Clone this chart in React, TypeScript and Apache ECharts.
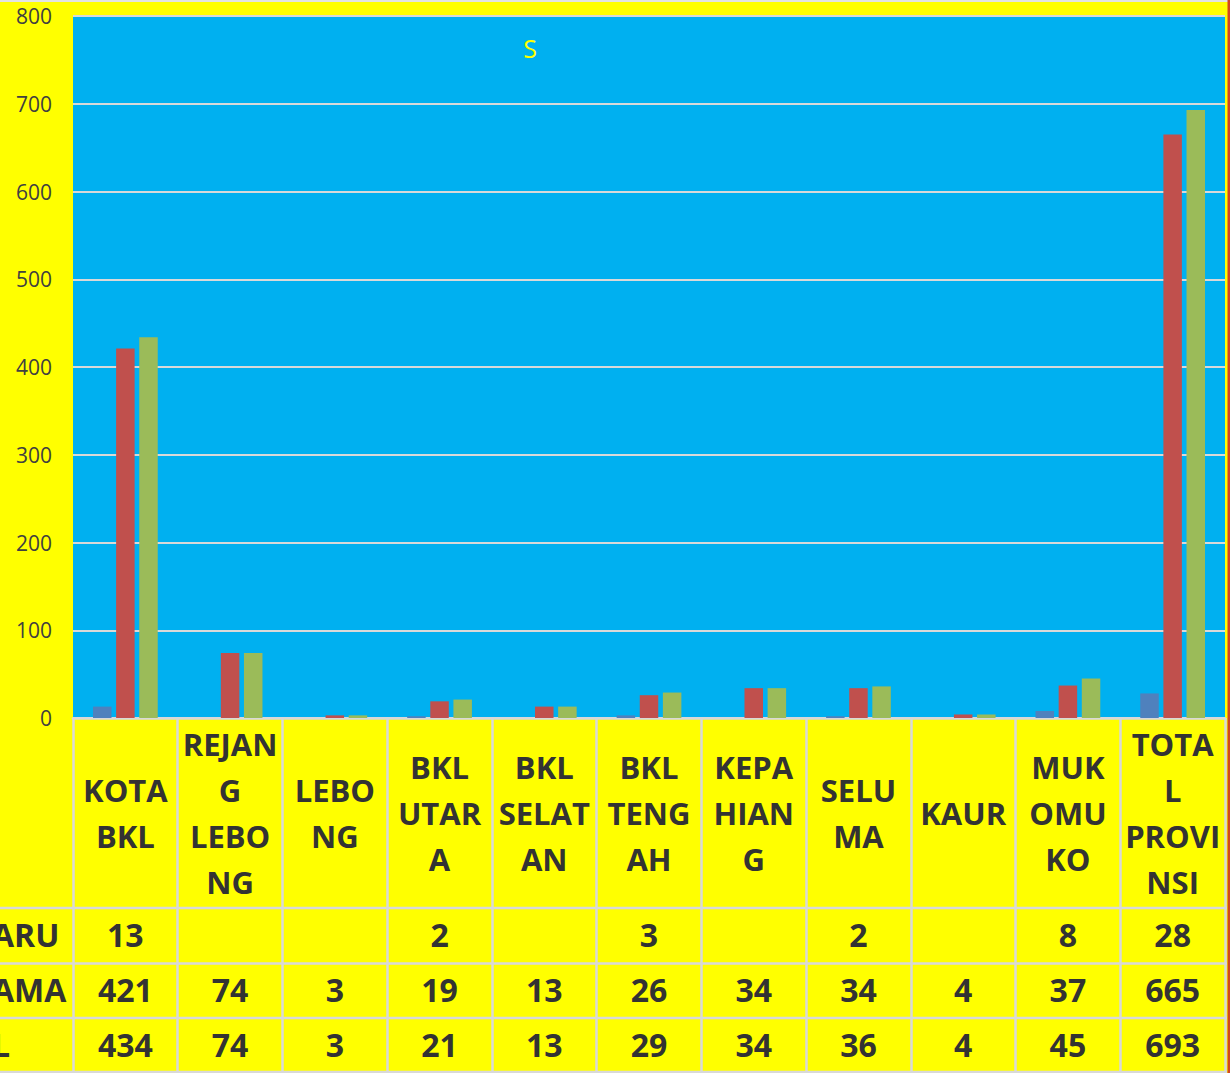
import React, { useEffect, useRef } from "react";
import * as echarts from "echarts";

const categories = [
  "KOTA BKL",
  "REJANG LEBONG",
  "LEBONG",
  "BKL UTARA",
  "BKL SELATAN",
  "BKL TENGAH",
  "KEPAHIANG",
  "SELUMA",
  "KAUR",
  "MUKOMUKO",
  "TOTAL PROVINSI",
];
const headerLabels = [
  "KOTA\nBKL",
  "REJAN\nG\nLEBO\nNG",
  "LEBO\nNG",
  "BKL\nUTAR\nA",
  "BKL\nSELAT\nAN",
  "BKL\nTENG\nAH",
  "KEPA\nHIAN\nG",
  "SELU\nMA",
  "KAUR",
  "MUK\nOMU\nKO",
  "TOTA\nL\nPROVI\nNSI",
];
const baru: (number | null)[] = [13, null, null, 2, null, 3, null, 2, null, 8, 28];
const lama: (number | null)[] = [421, 74, 3, 19, 13, 26, 34, 34, 4, 37, 665];
const total: (number | null)[] = [434, 74, 3, 21, 13, 29, 34, 36, 4, 45, 693];
const rowLabels = ["ARU", "AMA", "L"];
const yTicks = { min: 0, max: 800, interval: 100 };

const W = 1230;
const H = 1073;
const PLOT_TOP = 16;
const PLOT_BOTTOM = 718;
const PLOT_LEFT = 73;
const PLOT_RIGHT = 1225;
const ROW_CENTERS = [934, 989, 1044];
const ROW_LINES = [908, 963.5, 1018, 1072];
const TEXT_COLOR = "#333333";
const LINE_COLOR = "#D9D9D9";
const FONT = "'Open Sans', 'Noto Sans', sans-serif";

export default function App() {
  const ref = useRef<HTMLDivElement>(null);
  useEffect(() => {
    document.body.style.margin = "0";
    if (!ref.current) return;
    const chart = echarts.init(ref.current, null, { renderer: "svg" });
    const rows = [baru, lama, total];
    const rowAxes = rows.map((arr, i) => ({
      type: "category" as const,
      data: categories,
      gridIndex: 0,
      position: "bottom" as const,
      offset: ROW_CENTERS[i] - PLOT_BOTTOM,
      axisLine: { show: false },
      axisTick: { show: false },
      splitLine: { show: false },
      axisLabel: {
        interval: 0,
        margin: 0,
        verticalAlign: "middle" as const,
        color: TEXT_COLOR,
        fontFamily: FONT,
        fontWeight: "bold" as const,
        fontSize: 32,
        formatter: (_v: string, idx: number) =>
          arr[idx] == null ? "" : String(arr[idx]),
      },
    }));

    const graphics: any[] = [
      {
        type: "rect",
        shape: { x: 0, y: 0, width: W, height: 2 },
        style: { fill: "#E3E3E3" },
        z: 10,
      },
      {
        type: "rect",
        shape: { x: 1227.5, y: 0, width: 3, height: H },
        style: { fill: "#D2461F" },
        z: 10,
      },
      {
        type: "text",
        x: 530,
        y: 48,
        style: {
          text: "S",
          fill: "#FFFF00",
          fontSize: 25,
          fontFamily: FONT,
          textAlign: "center",
          textVerticalAlign: "middle",
        },
        z: 10,
      },
    ];
    ROW_LINES.forEach((y) => {
      graphics.push({
        type: "line",
        shape: { x1: 0, y1: y, x2: PLOT_RIGHT + 2, y2: y },
        style: { stroke: LINE_COLOR, lineWidth: 2.5 },
        z: 5,
      });
    });
    rowLabels.forEach((t, i) => {
      graphics.push({
        type: "text",
        x: -8,
        y: ROW_CENTERS[i],
        style: {
          text: t,
          fill: TEXT_COLOR,
          fontSize: 32,
          fontWeight: "bold",
          fontFamily: FONT,
          textAlign: "left",
          textVerticalAlign: "middle",
        },
        z: 10,
      });
    });

    const barBase = { type: "bar" as const, barWidth: 18.5, barGap: "25%" };
    chart.setOption({
      animation: false,
      backgroundColor: "#FFFF00",
      textStyle: { fontFamily: FONT },
      grid: {
        left: PLOT_LEFT,
        right: W - PLOT_RIGHT,
        top: PLOT_TOP,
        bottom: H - PLOT_BOTTOM,
        show: true,
        backgroundColor: "#00B0F0",
        borderWidth: 0,
        containLabel: false,
      },
      xAxis: [
        {
          type: "category",
          data: categories,
          position: "bottom",
          axisLine: { show: true, lineStyle: { color: LINE_COLOR, width: 2.5 } },
          axisTick: {
            show: true,
            length: H - PLOT_BOTTOM,
            alignWithLabel: false,
            interval: 0,
            lineStyle: { color: LINE_COLOR, width: 2.5 },
          },
          axisLabel: {
            interval: 0,
            margin: 95,
            verticalAlign: "middle",
            color: TEXT_COLOR,
            fontFamily: FONT,
            fontWeight: "bold",
            fontSize: 31,
            lineHeight: 46,
            formatter: (_v: string, idx: number) => headerLabels[idx],
          },
        },
        ...rowAxes,
      ],
      yAxis: {
        type: "value",
        min: yTicks.min,
        max: yTicks.max,
        interval: yTicks.interval,
        axisLine: { show: false },
        axisTick: { show: false },
        splitLine: { lineStyle: { color: LINE_COLOR, width: 2 } },
        axisLabel: {
          margin: 21,
          color: "#404040",
          fontFamily: FONT,
          fontSize: 21,
        },
      },
      series: [
        { ...barBase, name: "BARU", data: baru, itemStyle: { color: "#4F81BD" } },
        { ...barBase, name: "LAMA", data: lama, itemStyle: { color: "#C0504D" } },
        { ...barBase, name: "TOTAL", data: total, itemStyle: { color: "#9BBB59" } },
      ],
      graphic: graphics,
    });
    return () => chart.dispose();
  }, []);
  return <div ref={ref} style={{ width: W, height: H }} />;
}
